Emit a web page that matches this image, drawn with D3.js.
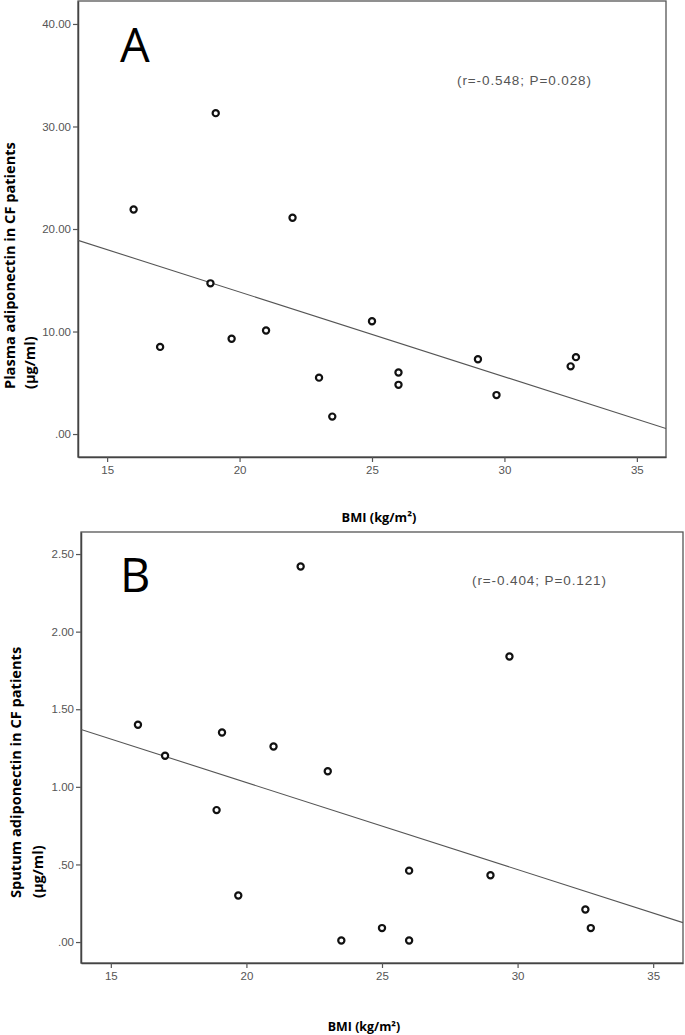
<!DOCTYPE html>
<html>
<head>
<meta charset="utf-8">
<script src="https://cdn.jsdelivr.net/npm/d3@7/dist/d3.min.js"></script>
<style>
  html, body { margin: 0; padding: 0; background: #fff; }
  svg { display: block; }
</style>
</head>
<body>
<svg id="chart" width="685" height="1035"></svg>
<script>
// ---- Data ----
const bmi = [16, 19.1, 22, 18.9, 17, 19.7, 21, 23, 23.5, 25, 26, 26, 29, 29.7, 32.5, 32.7];
const plasmaAdiponectin = [21.9, 31.3, 21.1, 14.7, 8.5, 9.3, 10.1, 5.5, 1.7, 11.0, 6.0, 4.8, 7.3, 3.8, 6.6, 7.5];
const sputumBmi = [16, 19.1, 22, 18.9, 17, 19.7, 21, 23, 23.5, 25, 26, 26, 29, 29.7, 32.5, 32.7];
const sputumAdiponectin = [1.40, 1.35, 2.42, 0.85, 1.20, 0.30, 1.26, 1.10, 0.01, 0.09, 0.46, 0.01, 0.43, 1.84, 0.21, 0.09];
const xTicks = [15, 20, 25, 30, 35];
const yTicksA = [0, 10, 20, 30, 40];
const yTicksB = [0, 0.5, 1.0, 1.5, 2.0, 2.5];
const panelLetters = ["A", "B"];
const statLabels = ["(r=-0.548; P=0.028)", "(r=-0.404; P=0.121)"];
const yLabelsA = ["Plasma adiponectin in CF patients", "(µg/ml)"];
const yLabelsB = ["Sputum adiponectin in CF patients", "(µg/ml)"];
const xLabel = "BMI (kg/m²)";

const svg = d3.select("#chart");
const fmtY = v => d3.format(".2f")(v).replace(/^0\./, ".");

function linreg(xs, ys) {
  const mx = d3.mean(xs), my = d3.mean(ys);
  let sxy = 0, sxx = 0;
  xs.forEach((x, i) => { sxy += (x - mx) * (ys[i] - my); sxx += (x - mx) * (x - mx); });
  const b = sxy / sxx;
  return { slope: b, intercept: my - b * mx };
}

function panel(cfg) {
  const g = svg.append("g");
  const x = d3.scaleLinear().domain(cfg.xDomain).range([cfg.left, cfg.right]);
  const y = d3.scaleLinear().domain(cfg.yDomain).range([cfg.bottom, cfg.top]);

  // Plot frame
  g.append("rect")
    .attr("x", cfg.left).attr("y", cfg.top)
    .attr("width", cfg.right - cfg.left).attr("height", cfg.bottom - cfg.top)
    .attr("fill", "none").attr("stroke", "#555").attr("stroke-width", 1.3);

  // Axes
  const xAxis = g.append("g").attr("transform", `translate(0,${cfg.bottom})`)
    .call(d3.axisBottom(x).tickValues(xTicks).tickSizeInner(5).tickSizeOuter(0).tickPadding(4).tickFormat(d3.format("d")));
  const yAxis = g.append("g").attr("transform", `translate(${cfg.left},0)`)
    .call(d3.axisLeft(y).tickValues(cfg.yTicks).tickSizeInner(5).tickSizeOuter(0).tickPadding(2).tickFormat(fmtY));
  [xAxis, yAxis].forEach(a => {
    a.select(".domain").attr("stroke", "#444").attr("stroke-width", 1.5);
    a.selectAll(".tick line").attr("stroke", "#555").attr("stroke-width", 1.2);
    a.selectAll(".tick text")
      .attr("fill", "#555")
      .style("font-family", "Liberation Sans, Arial, sans-serif")
      .style("font-size", "11.5px");
  });

  // Clip for the fit line
  const clipId = "clip" + cfg.id;
  g.append("clipPath").attr("id", clipId).append("rect")
    .attr("x", cfg.left).attr("y", cfg.top)
    .attr("width", cfg.right - cfg.left).attr("height", cfg.bottom - cfg.top);

  const fit = linreg(cfg.xs, cfg.ys);
  const xd = cfg.xDomain;
  g.append("line")
    .attr("clip-path", `url(#${clipId})`)
    .attr("x1", x(xd[0])).attr("y1", y(fit.intercept + fit.slope * xd[0]))
    .attr("x2", x(xd[1])).attr("y2", y(fit.intercept + fit.slope * xd[1]))
    .attr("stroke", "#555").attr("stroke-width", 1.1);

  // Points
  g.selectAll("circle.pt").data(cfg.xs.map((v, i) => [v, cfg.ys[i]]))
    .enter().append("circle").attr("class", "pt")
    .attr("cx", d => x(d[0])).attr("cy", d => y(d[1]))
    .attr("r", 3.1)
    .attr("fill", "#fff").attr("stroke", "#111").attr("stroke-width", 2.2);

  // Panel letter
  g.append("text")
    .attr("x", cfg.letterX).attr("y", cfg.letterY)
    .style("font-family", "Open Sans, sans-serif")
    .style("font-size", "47px")
    .attr("fill", "#000")
    .text(cfg.letter);

  // Stats text
  g.append("text")
    .attr("x", cfg.statX).attr("y", cfg.statY)
    .style("font-family", "Liberation Sans, Arial, sans-serif")
    .style("font-size", "13.5px")
    .style("letter-spacing", "0.9px")
    .attr("fill", "#555")
    .text(cfg.stat);

  // X label
  g.append("text")
    .attr("x", cfg.xLabelX).attr("y", cfg.xLabelY)
    .attr("text-anchor", "middle")
    .style("font-family", "Open Sans, sans-serif")
    .style("font-weight", "bold")
    .style("font-size", cfg.xLabelSize)
    .attr("fill", "#000")
    .text(xLabel);

  // Y label (two lines, rotated, start-aligned)
  cfg.yLabels.forEach((t, i) => {
    g.append("text")
      .attr("transform", `translate(${cfg.yLabelX[i]},${cfg.yLabelStart}) rotate(-90)`)
      .attr("text-anchor", "start")
      .style("font-family", "Open Sans, sans-serif")
      .style("font-weight", "bold")
      .style("font-size", "14.6px")
      .attr("fill", "#000")
      .text(t);
  });
}

panel({
  id: "A", left: 78, right: 666, top: 1, bottom: 457,
  xDomain: [13.9, 36.1], yDomain: [-2.24, 42.24], yTicks: yTicksA,
  xs: bmi, ys: plasmaAdiponectin,
  letter: panelLetters[0], letterX: 120, letterY: 62,
  stat: statLabels[0], statX: 457, statY: 85,
  xLabelX: 379, xLabelY: 522, xLabelSize: "12.8px",
  yLabels: yLabelsA, yLabelX: [15, 35], yLabelStart: 389
});

panel({
  id: "B", left: 81, right: 683, top: 532, bottom: 963,
  xDomain: [13.9, 36.1], yDomain: [-0.135, 2.642], yTicks: yTicksB,
  xs: sputumBmi, ys: sputumAdiponectin,
  letter: panelLetters[1], letterX: 120, letterY: 592,
  stat: statLabels[1], statX: 472, statY: 585,
  xLabelX: 364, xLabelY: 1031, xLabelSize: "12.4px",
  yLabels: yLabelsB, yLabelX: [21, 43], yLabelStart: 898
});
</script>
</body>
</html>
